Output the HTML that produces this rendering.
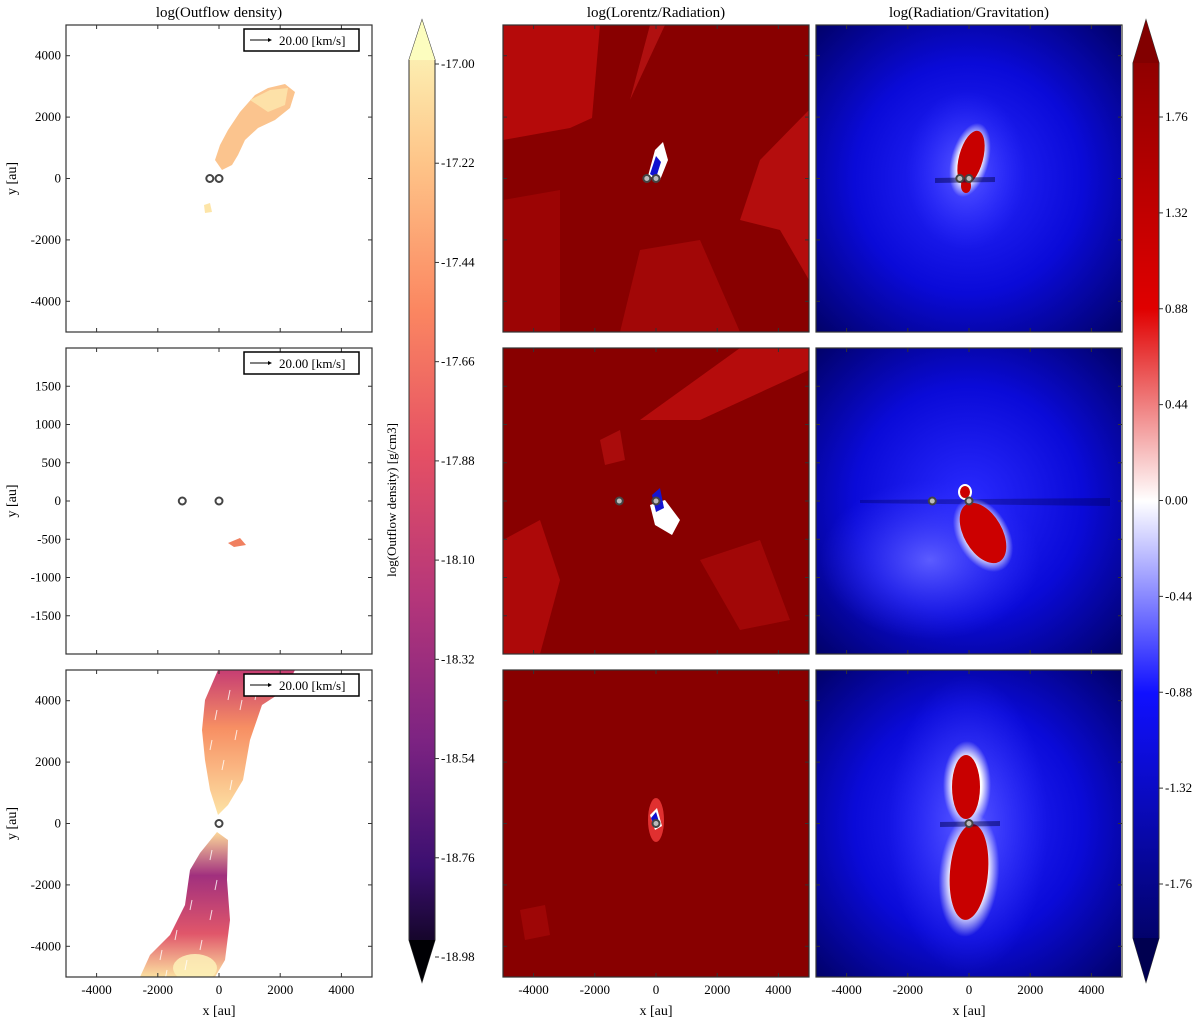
<!DOCTYPE html>
<html><head><meta charset="utf-8"><style>
body{margin:0;background:#fff;}
svg{display:block;font-family:"Liberation Serif",serif;}
</style></head><body>
<svg id="fig" width="1200" height="1022" viewBox="0 0 1200 1022" xmlns="http://www.w3.org/2000/svg">
<defs>
<linearGradient id="magma" x1="0" y1="0" x2="0" y2="1">
<stop offset="0" stop-color="#fcfdbf"/><stop offset="0.15" stop-color="#fec488"/><stop offset="0.3" stop-color="#fb8761"/>
<stop offset="0.45" stop-color="#e55064"/><stop offset="0.6" stop-color="#b5367a"/><stop offset="0.75" stop-color="#7c2382"/>
<stop offset="0.88" stop-color="#3b0f70"/><stop offset="1" stop-color="#000004"/></linearGradient>
<linearGradient id="seis" x1="0" y1="0" x2="0" y2="1">
<stop offset="0" stop-color="#820000"/><stop offset="0.3" stop-color="#e00000"/><stop offset="0.5" stop-color="#ffffff"/>
<stop offset="0.7" stop-color="#1010ff"/><stop offset="1" stop-color="#000050"/></linearGradient>
<radialGradient id="blueBg" cx="0.5" cy="0.5" r="0.75"><stop offset="0" stop-color="#2a2aff"/><stop offset="0.5" stop-color="#0a0ad8"/><stop offset="1" stop-color="#00005a"/></radialGradient>
<radialGradient id="halo" cx="0.5" cy="0.5" r="0.5"><stop offset="0.6" stop-color="#fff"/><stop offset="1" stop-color="#fff" stop-opacity="0"/></radialGradient>
<radialGradient id="glowB" cx="0.5" cy="0.5" r="0.5"><stop offset="0" stop-color="#5c5cff"/><stop offset="1" stop-color="#3030ff" stop-opacity="0"/></radialGradient>
<linearGradient id="jetTop" x1="0" y1="0" x2="0" y2="1"><stop offset="0" stop-color="#c63d73"/><stop offset="0.4" stop-color="#f78f63"/><stop offset="1" stop-color="#fde3a5"/></linearGradient>
<linearGradient id="jetBot" x1="0" y1="0" x2="0" y2="1"><stop offset="0" stop-color="#fcd89a"/><stop offset="0.3" stop-color="#a1307e"/><stop offset="0.7" stop-color="#e0566a"/><stop offset="1" stop-color="#fbe0a0"/></linearGradient>
<clipPath id="cM1"><rect x="503" y="25" width="306" height="307"/></clipPath>
<clipPath id="cM2"><rect x="503" y="348" width="306" height="306"/></clipPath>
<clipPath id="cM3"><rect x="503" y="670" width="306" height="307"/></clipPath>
<clipPath id="cL3"><rect x="66" y="670" width="306" height="307"/></clipPath>
</defs>

<text x="219" y="17" font-size="15" text-anchor="middle">log(Outflow density)</text>
<text x="656" y="17" font-size="15" text-anchor="middle">log(Lorentz/Radiation)</text>
<text x="969" y="17" font-size="15" text-anchor="middle">log(Radiation/Gravitation)</text>

<g>
<path d="M228,130 L240,112 L255,95 L268,88 L285,84 L295,92 L290,108 L275,120 L258,128 L245,140 L238,155 L232,165 L222,170 L215,160 L220,145 Z" fill="#fbc48e"/>
<path d="M250,100 L270,90 L288,88 L285,105 L268,112 Z" fill="#fde1a8"/>
<path d="M204,205 L210,203 L212,212 L205,213 Z" fill="#fde5a8"/>
</g>
<g><path d="M228,543 L240,538 L246,545 L234,547 Z" fill="#f08060"/></g>
<g clip-path="url(#cL3)">
<path d="M218,815 L210,790 L205,760 L202,730 L205,700 L218,670 L295,670 L285,690 L262,705 L250,740 L243,780 L228,805 Z" fill="url(#jetTop)"/>
<path d="M217,832 L228,840 L227,880 L230,920 L225,960 L215,977 L140,977 L150,955 L170,935 L185,905 L190,870 L200,853 Z" fill="url(#jetBot)"/>
<ellipse cx="195" cy="968" rx="22" ry="14" fill="#fdf1b8" opacity="0.85"/>
<g id="arrows" stroke="#fff" stroke-width="1" opacity="0.8"></g>
</g>

<g clip-path="url(#cM1)">
<rect x="503" y="25" width="306" height="307" fill="#880000"/>
<path d="M503,25 L600,25 L592,118 L570,128 L503,140 Z" fill="#d41010" opacity="0.6"/>
<path d="M630,100 L650,25 L665,25 Z" fill="#d82020" opacity="0.5"/>
<path d="M809,110 L809,280 L780,230 L740,220 L760,160 Z" fill="#d81818" opacity="0.55"/>
<path d="M503,200 L560,190 L560,332 L503,332 Z" fill="#b00808" opacity="0.5"/>
<path d="M640,250 L700,240 L740,332 L620,332 Z" fill="#c41010" opacity="0.45"/>
<path d="M648,176 L655,150 L663,142 L668,160 L660,180 Z" fill="#fff"/>
<path d="M650,174 L656,156 L661,162 L656,178 Z" fill="#1010d0"/>
</g>
<g clip-path="url(#cM2)">
<rect x="503" y="348" width="306" height="306" fill="#880000"/>
<path d="M640,420 L740,348 L809,348 L809,370 L700,420 Z" fill="#d41414" opacity="0.6"/>
<path d="M503,540 L540,520 L560,580 L540,654 L503,654 Z" fill="#cc1010" opacity="0.55"/>
<path d="M600,440 L620,430 L625,460 L605,465 Z" fill="#cc1818" opacity="0.5"/>
<path d="M700,560 L760,540 L790,620 L740,630 Z" fill="#c01010" opacity="0.45"/>
<path d="M650,505 L665,500 L680,520 L672,535 L655,525 Z" fill="#fff"/>
<path d="M652,495 L660,488 L664,508 L656,512 Z" fill="#1515d0"/>
</g>
<g clip-path="url(#cM3)">
<rect x="503" y="670" width="306" height="307" fill="#880000"/>
<ellipse cx="656" cy="820" rx="8" ry="22" fill="#e03030"/>
<path d="M650,815 L657,808 L662,826 L655,830 Z" fill="#fff"/>
<path d="M651,818 L656,812 L660,825 L655,828 Z" fill="#1010d0"/>
<path d="M520,910 L545,905 L550,935 L525,940 Z" fill="#c01010" opacity="0.4"/>
</g>

<g>
<rect x="816" y="25" width="305" height="307" fill="url(#blueBg)"/>
<ellipse cx="966" cy="170" rx="60" ry="80" fill="url(#glowB)"/>
<ellipse cx="970" cy="160" rx="19" ry="38" transform="rotate(15 970 160)" fill="url(#halo)"/>
<ellipse cx="971" cy="158" rx="12" ry="28" transform="rotate(15 971 158)" fill="#c80000"/>
<ellipse cx="966" cy="186" rx="5" ry="7" fill="#c80000"/>
<path d="M935,178 L995,177 L995,182 L935,183 Z" fill="#000050" opacity="0.5"/>
</g>
<g>
<rect x="816" y="348" width="305" height="306" fill="url(#blueBg)"/>
<ellipse cx="930" cy="560" rx="110" ry="80" fill="url(#glowB)"/>
<path d="M860,500 L1110,498 L1110,506 L860,503 Z" fill="#000055" opacity="0.35"/>
<ellipse cx="983" cy="535" rx="26" ry="40" transform="rotate(-30 983 535)" fill="url(#halo)"/>
<ellipse cx="983" cy="533" rx="19" ry="33" transform="rotate(-30 983 533)" fill="#cc0000"/>
<ellipse cx="965" cy="492" rx="7" ry="8" fill="#fff"/><ellipse cx="965" cy="492" rx="5" ry="6" fill="#cc0000"/>
</g>
<g>
<rect x="816" y="670" width="305" height="307" fill="url(#blueBg)"/>
<ellipse cx="968" cy="825" rx="80" ry="150" fill="url(#glowB)"/>
<ellipse cx="967" cy="785" rx="24" ry="44" fill="url(#halo)"/>
<ellipse cx="969" cy="875" rx="30" ry="62" transform="rotate(5 969 875)" fill="url(#halo)"/>
<ellipse cx="966" cy="787" rx="14" ry="32" fill="#c80000"/>
<ellipse cx="969" cy="872" rx="19" ry="48" transform="rotate(5 969 872)" fill="#c80000"/>
<path d="M940,822 L1000,821 L1000,826 L940,827 Z" fill="#000050" opacity="0.5"/>
</g>

<g id="axes"></g>

<g>
<path d="M409,60 L422,20 L435,60 L435,940 L422,982 L409,940 Z" fill="url(#magma)" stroke="#333" stroke-width="1"/>
<path d="M409,60 L422,20 L435,60 Z" fill="#fcfdbf"/>
<path d="M409,940 L422,982 L435,940 Z" fill="#000004"/>
<text transform="translate(396,500) rotate(-90)" font-size="13" text-anchor="middle">log(Outflow density) [g/cm3]</text>
</g>
<g>
<path d="M1133,63 L1146,20 L1159,63 L1159,938 L1146,982 L1133,938 Z" fill="url(#seis)" stroke="#333" stroke-width="1"/>
<path d="M1133,63 L1146,20 L1159,63 Z" fill="#820000"/>
<path d="M1133,938 L1146,982 L1159,938 Z" fill="#000050"/>
</g>
<g id="cbticks"></g>
</svg>
<script>
const xTicks=[-4000,-2000,0,2000,4000];
const yTicksFull=[4000,2000,0,-2000,-4000];
const yTicksMid=[1500,1000,500,0,-500,-1000,-1500];
const cb1Ticks=["-17.00","-17.22","-17.44","-17.66","-17.88","-18.10","-18.32","-18.54","-18.76","-18.98"];
const cb2Ticks=["1.76","1.32","0.88","0.44","0.00","-0.44","-0.88","-1.32","-1.76"];
const starsRow1=[[-300,0],[0,0]];
const starsRow2=[[-1200,0],[0,0]];
const starsRow3=[[0,0]];
const NS="http://www.w3.org/2000/svg";
const ax=document.getElementById('axes');
function el(t,a,p){const e=document.createElementNS(NS,t);for(const k in a)e.setAttribute(k,a[k]);(p||ax).appendChild(e);return e;}
const cols=[66,503,816];const W=306;
const rows=[{y:25,h:307,r:5000,yt:yTicksFull,st:starsRow1},{y:348,h:306,r:2000,yt:yTicksMid,st:starsRow2},{y:670,h:307,r:5000,yt:yTicksFull,st:starsRow3}];
rows.forEach((R,ri)=>{cols.forEach((cx,ci)=>{
 const sx=v=>cx+(v+5000)/10000*W, sy=v=>R.y+(R.r-v)/(2*R.r)*R.h;
 const f=el('rect',{x:cx,y:R.y,width:W,height:R.h,fill:'none',stroke:'#333','stroke-width':1.2});
 
 
 xTicks.forEach(t=>{const x=sx(t);el('line',{x1:x,x2:x,y1:R.y,y2:R.y+4,stroke:'#333'});el('line',{x1:x,x2:x,y1:R.y+R.h,y2:R.y+R.h-4,stroke:'#333'});
  if(ri==2){const tx=el('text',{x:x,y:R.y+R.h+17,'font-size':13,'text-anchor':'middle'});tx.textContent=t;
   
   }});
 R.yt.forEach(t=>{const y=sy(t);el('line',{x1:cx,x2:cx+4,y1:y,y2:y,stroke:'#333'});el('line',{x1:cx+W,x2:cx+W-4,y1:y,y2:y,stroke:'#333'});
  if(ci==0){const tx=el('text',{x:cx-5,y:y+4,'font-size':13,'text-anchor':'end'});tx.textContent=t;
   
   }});
 R.st.forEach(s=>{const c=el('circle',{cx:sx(s[0]),cy:sy(s[1]),r:3.5,fill:ci==0?'#fff':'#bbb',stroke:'#444','stroke-width':2});
  
  });
 if(ri==2){const xl=el('text',{x:cx+W/2,y:1015,'font-size':14,'text-anchor':'middle'});xl.textContent='x [au]';
  
  }
 if(ci==0){const yl=el('text',{transform:`translate(16,${R.y+R.h/2}) rotate(-90)`,'font-size':14,'text-anchor':'middle'});yl.textContent='y [au]';
  
  
  const lg=el('g',{});
  
  
  el('rect',{x:244,y:R.y+4,width:115,height:22,fill:'#fff',stroke:'#000','stroke-width':1.5},lg);
  el('line',{x1:250,x2:268,y1:R.y+15,y2:R.y+15,stroke:'#000'},lg);
  el('path',{d:`M268,${R.y+13} L272,${R.y+15} L268,${R.y+17}Z`,fill:'#000'},lg);
  const lt=el('text',{x:279,y:R.y+20,'font-size':13},lg);lt.textContent='20.00 [km/s]';}
});});
const ar=document.getElementById('arrows');
[[200,690],[215,710],[228,690],[235,730],[210,740],[222,760],[240,700],[255,690],[205,780],[230,780]].forEach(p=>el('line',{x1:p[0],y1:p[1]+10,x2:p[0]+2,y2:p[1]},ar));
[[210,850],[215,880],[210,910],[190,900],[175,930],[160,950],[200,940],[185,960],[165,970]].forEach(p=>el('line',{x1:p[0]+2,y1:p[1],x2:p[0],y2:p[1]+10},ar));
const cg=document.getElementById('cbticks');
cb1Ticks.forEach((t,i)=>{const y=64+i*(957-64)/(cb1Ticks.length-1);el('line',{x1:435,x2:439,y1:y,y2:y,stroke:'#333'},cg);
 const tx=el('text',{x:441,y:y+4,'font-size':13},cg);tx.textContent=t;
 
 });
cb2Ticks.forEach((t,i)=>{const y=117+i*(884-117)/(cb2Ticks.length-1);el('line',{x1:1159,x2:1163,y1:y,y2:y,stroke:'#333'},cg);
 const tx=el('text',{x:1165,y:y+4,'font-size':13},cg);tx.textContent=t;
 
 });
</script>
</body></html>
